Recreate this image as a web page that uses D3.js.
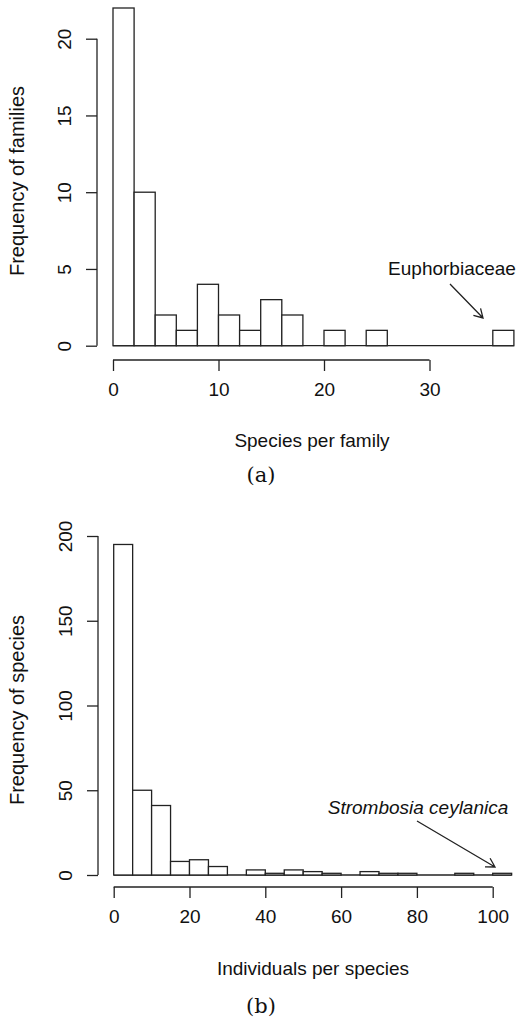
<!DOCTYPE html>
<html>
<head>
<meta charset="utf-8">
<script src="https://cdn.jsdelivr.net/npm/d3@7"></script>
<style>
  body { margin: 0; background: #fff; }
  text { font-family: "Liberation Sans", Arial, sans-serif; fill: #111; }
</style>
</head>
<body>
<div id="vis"></div>
<script>
var WIDTH = 517
var HEIGHT = 1021

// (a) species per family, bins of width 2
var famBinWidth = 2
var famCounts = [22, 10, 2, 1, 4, 2, 1, 3, 2, 0, 1, 0, 1, 0, 0, 0, 0, 0, 1]
var famXTicks = [0, 10, 20, 30]
var famYTicks = [0, 5, 10, 15, 20]

// (b) individuals per species, bins of width 5
var spBinWidth = 5
var spCounts = [195, 50, 41, 8, 9, 5, 0, 3, 1, 3, 2, 1, 0, 2, 1, 1, 0, 0, 1, 0, 1]
var spXTicks = [0, 20, 40, 60, 80, 100]
var spYTicks = [0, 50, 100, 150, 200]

var FS = 19

const svg = d3.select('#vis').append('svg')
    .attr('width', WIDTH)
    .attr('height', HEIGHT)

function drawHist(opts) {
    var g = svg.append('g')
    var bins = opts.counts.map((c, i) => ({ x0: i * opts.binWidth, x1: (i + 1) * opts.binWidth, n: c }))
    var xMax = bins.length * opts.binWidth

    var x = d3.scaleLinear().domain([0, opts.xRef]).range([opts.x0, opts.xRefPx])
    var y = d3.scaleLinear().domain([0, opts.yRef]).range([opts.y0, opts.yRefPx])

    // baseline of the empty bins
    g.append('line')
        .attr('x1', x(0)).attr('x2', x(xMax))
        .attr('y1', y(0)).attr('y2', y(0))
        .attr('stroke', '#222').attr('stroke-width', 1.3)

    g.selectAll('rect.bar')
        .data(bins.filter(d => d.n > 0))
        .enter()
        .append('rect')
        .attr('class', 'bar')
        .attr('x', d => x(d.x0))
        .attr('width', d => x(d.x1) - x(d.x0))
        .attr('y', d => y(d.n))
        .attr('height', d => y(0) - y(d.n))
        .attr('fill', 'white')
        .attr('stroke', '#222')
        .attr('stroke-width', 1.3)

    // x axis, R style, offset below the plot
    var xAxis = g.append('g')
        .attr('transform', 'translate(0,' + opts.xAxisY + ')')
        .call(d3.axisBottom(x).tickValues(opts.xTicks).tickSize(11).tickSizeOuter(0).tickPadding(12))
    xAxis.select('.domain').remove()
    xAxis.append('line')
        .attr('x1', x(opts.xTicks[0])).attr('x2', x(opts.xTicks[opts.xTicks.length - 1]))
        .attr('stroke', '#222').attr('stroke-width', 1.3)
    xAxis.selectAll('.tick line').attr('stroke', '#222').attr('stroke-width', 1.3)
    xAxis.selectAll('.tick text')
        .attr('font-size', FS).attr('font-family', '"Liberation Sans", Arial, sans-serif').attr('fill', '#111')

    // y axis with labels parallel to the axis
    var yAxis = g.append('g')
        .attr('transform', 'translate(' + opts.yAxisX + ',0)')
        .call(d3.axisLeft(y).tickValues(opts.yTicks).tickSize(11).tickSizeOuter(0))
    yAxis.select('.domain').remove()
    yAxis.append('line')
        .attr('y1', y(opts.yTicks[0])).attr('y2', y(opts.yTicks[opts.yTicks.length - 1]))
        .attr('stroke', '#222').attr('stroke-width', 1.3)
    yAxis.selectAll('.tick line').attr('stroke', '#222').attr('stroke-width', 1.3)
    yAxis.selectAll('.tick text')
        .attr('x', null).attr('dy', null)
        .attr('transform', 'translate(-33,0) rotate(-90)')
        .attr('text-anchor', 'middle')
        .attr('dominant-baseline', 'central')
        .attr('font-size', FS).attr('font-family', '"Liberation Sans", Arial, sans-serif').attr('fill', '#111')

    g.append('text')
        .attr('transform', 'translate(17,' + opts.yTitleY + ') rotate(-90)')
        .attr('text-anchor', 'middle')
        .attr('dominant-baseline', 'central')
        .attr('font-size', 20)
        .text(opts.yTitle)

    g.append('text')
        .attr('x', opts.xTitleX).attr('y', opts.xTitleY)
        .attr('text-anchor', 'middle')
        .attr('dominant-baseline', 'central')
        .attr('font-size', FS)
        .text(opts.xTitle)

    g.append('text')
        .attr('x', 261).attr('y', opts.panelY)
        .attr('text-anchor', 'middle')
        .attr('dominant-baseline', 'central')
        .style('font-family', '"DejaVu Serif", "Liberation Serif", serif')
        .attr('font-size', 21)
        .text(opts.panel)

    // annotation
    var ann = opts.note
    g.append('text')
        .attr('x', ann.tx).attr('y', ann.ty)
        .attr('text-anchor', 'middle')
        .attr('dominant-baseline', 'central')
        .attr('font-size', FS)
        .style('font-style', ann.italic ? 'italic' : 'normal')
        .text(ann.label)
    var p0 = [ann.ax0, ann.ay0], p1 = [ann.ax1, ann.ay1]
    var ang = Math.atan2(p1[1] - p0[1], p1[0] - p0[0])
    var L = 10, spread = Math.PI / 6
    g.append('path')
        .attr('d', 'M' + p0 + 'L' + p1 +
            'M' + [p1[0] - L * Math.cos(ang - spread), p1[1] - L * Math.sin(ang - spread)] +
            'L' + p1 +
            'L' + [p1[0] - L * Math.cos(ang + spread), p1[1] - L * Math.sin(ang + spread)])
        .attr('fill', 'none').attr('stroke', '#222').attr('stroke-width', 1.3)
}

drawHist({
    counts: famCounts, binWidth: famBinWidth, xTicks: famXTicks, yTicks: famYTicks,
    xRef: 30, x0: 113, xRefPx: 429.5,
    yRef: 20, y0: 345.7, yRefPx: 38.7,
    xAxisY: 360, yAxisX: 97,
    yTitle: 'Frequency of families', yTitleY: 181,
    xTitle: 'Species per family', xTitleX: 312, xTitleY: 440,
    panel: '(a)', panelY: 475,
    note: { label: 'Euphorbiaceae', italic: false, tx: 452, ty: 268, ax0: 450, ay0: 284, ax1: 483, ay1: 318 }
})

drawHist({
    counts: spCounts, binWidth: spBinWidth, xTicks: spXTicks, yTicks: spYTicks,
    xRef: 100, x0: 113.7, xRefPx: 492.7,
    yRef: 200, y0: 875, yRefPx: 536,
    xAxisY: 887, yAxisX: 98,
    yTitle: 'Frequency of species', yTitleY: 710,
    xTitle: 'Individuals per species', xTitleX: 313, xTitleY: 968,
    panel: '(b)', panelY: 1006,
    note: { label: 'Strombosia ceylanica', italic: true, tx: 418, ty: 807, ax0: 417, ay0: 821, ax1: 495, ay1: 867 }
})
</script>
</body>
</html>
